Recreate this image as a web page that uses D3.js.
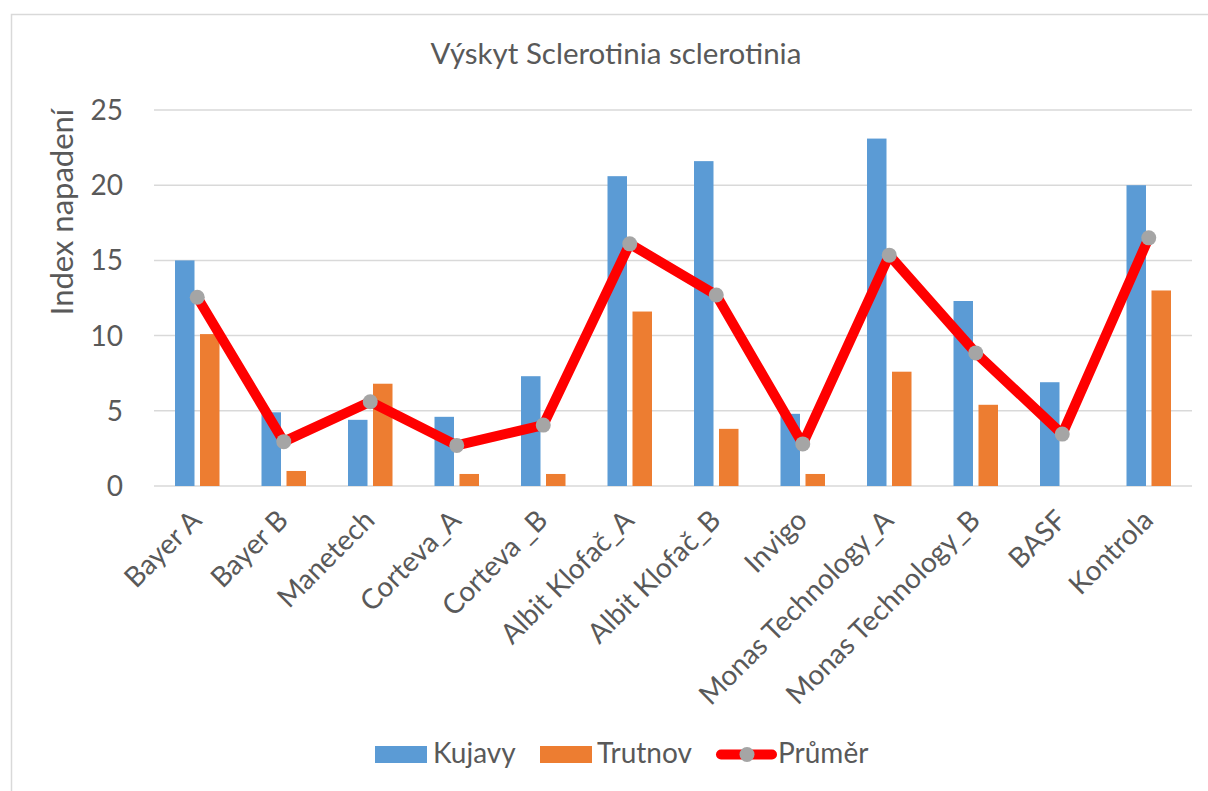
<!DOCTYPE html>
<html>
<head>
<meta charset="utf-8">
<script src="https://cdn.jsdelivr.net/npm/d3@7"></script>
<style>
  html, body { margin: 0; padding: 0; background: #fff; }
  svg { display: block; }
  text { font-family: Lato, "Open Sans", sans-serif; fill: #595959; }
</style>
</head>
<body>
<svg id="chart" width="1208" height="791"></svg>
<script>
const categories = ["Bayer A", "Bayer B", "Manetech", "Corteva_A", "Corteva _B", "Albit Klofač_A", "Albit Klofač_B", "Invigo", "Monas Technology_A", "Monas Technology_B", "BASF", "Kontrola"];
const kujavy  = [15.0, 4.9, 4.4, 4.6, 7.3, 20.6, 21.6, 4.8, 23.1, 12.3, 6.9, 20.0];
const trutnov = [10.1, 1.0, 6.8, 0.8, 0.8, 11.6, 3.8, 0.8, 7.6, 5.4, 0.0, 13.0];
const prumer  = [12.55, 2.95, 5.6, 2.7, 4.05, 16.1, 12.7, 2.8, 15.35, 8.85, 3.45, 16.5];
const yTicks = [0, 5, 10, 15, 20, 25];
const seriesNames = ["Kujavy", "Trutnov", "Průměr"];
const title = "Výskyt Sclerotinia sclerotinia";
const yTitle = "Index napadení";

const colors = { Kujavy: "#5B9BD5", Trutnov: "#ED7D31", line: "#FF0000", marker: "#A5A5A5" };

const svg = d3.select("#chart");
const pLeft = 154, pRight = 1192, pTop = 110, pBottom = 486;

// chart border
svg.append("rect").attr("x", 11.5).attr("y", 14.5).attr("width", 1400).attr("height", 1000)
  .attr("fill", "#fff").attr("stroke", "#d9d9d9").attr("stroke-width", 1.5);

const x = d3.scaleBand().domain(categories).range([pLeft, pRight]).paddingInner(0).paddingOuter(0);
const y = d3.scaleLinear().domain([0, 25]).range([pBottom, pTop]);
const groupW = 44.5;
const x1 = d3.scaleBand().domain(["Kujavy", "Trutnov"])
  .range([(x.bandwidth() - groupW) / 2, (x.bandwidth() + groupW) / 2]).paddingInner(0.22);

// gridlines
svg.append("g").selectAll("line").data(yTicks).join("line")
  .attr("x1", pLeft).attr("x2", pRight)
  .attr("y1", d => y(d)).attr("y2", d => y(d))
  .attr("stroke", "#d9d9d9").attr("stroke-width", 1.5);

// y tick labels
svg.append("g").selectAll("text").data(yTicks).join("text")
  .attr("x", 123).attr("y", d => y(d) + 10)
  .attr("text-anchor", "end").attr("font-size", 28).text(d => d);

// bars
const bars = svg.append("g");
[["Kujavy", kujavy], ["Trutnov", trutnov]].forEach(([name, vals]) => {
  bars.selectAll(null).data(vals.map((v, i) => ({ c: categories[i], v }))).join("rect")
    .attr("x", d => x(d.c) + x1(name))
    .attr("width", x1.bandwidth())
    .attr("y", d => y(d.v))
    .attr("height", d => y(0) - y(d.v))
    .attr("fill", colors[name]);
});

// average line
const pts = prumer.map((v, i) => ({ c: categories[i], v }));
const line = d3.line().x(d => x(d.c) + x.bandwidth() / 2).y(d => y(d.v));
svg.append("path").datum(pts).attr("d", line)
  .attr("fill", "none").attr("stroke", colors.line).attr("stroke-width", 10)
  .attr("stroke-linejoin", "round").attr("stroke-linecap", "round");
svg.append("g").selectAll("circle").data(pts).join("circle")
  .attr("cx", d => x(d.c) + x.bandwidth() / 2).attr("cy", d => y(d.v))
  .attr("r", 7.5).attr("fill", colors.marker);

// category labels
svg.append("g").selectAll("text").data(categories).join("text")
  .attr("transform", d => `translate(${x(d) + x.bandwidth() / 2 + 6},${pBottom + 36}) rotate(-45)`)
  .attr("text-anchor", "end").attr("font-size", 28).text(d => d);

// title
svg.append("text").attr("x", 616).attr("y", 64).attr("text-anchor", "middle")
  .attr("font-size", 29.5).text(title);

// y axis title
svg.append("text").attr("transform", `translate(73,212) rotate(-90)`)
  .attr("text-anchor", "middle").attr("font-size", 31).text(yTitle);

// legend
const lg = svg.append("g");
lg.append("rect").attr("x", 375).attr("y", 746).attr("width", 52).attr("height", 17).attr("fill", colors.Kujavy);
lg.append("text").attr("x", 433).attr("y", 763).attr("font-size", 28).text(seriesNames[0]);
lg.append("rect").attr("x", 540).attr("y", 746).attr("width", 52).attr("height", 17).attr("fill", colors.Trutnov);
lg.append("text").attr("x", 597).attr("y", 763).attr("font-size", 28).text(seriesNames[1]);
lg.append("line").attr("x1", 721).attr("x2", 772).attr("y1", 754.5).attr("y2", 754.5)
  .attr("stroke", colors.line).attr("stroke-width", 10).attr("stroke-linecap", "round");
lg.append("circle").attr("cx", 747).attr("cy", 754.5).attr("r", 7.5).attr("fill", colors.marker);
lg.append("text").attr("x", 778).attr("y", 763).attr("font-size", 28).text(seriesNames[2]);
</script>
</body>
</html>
